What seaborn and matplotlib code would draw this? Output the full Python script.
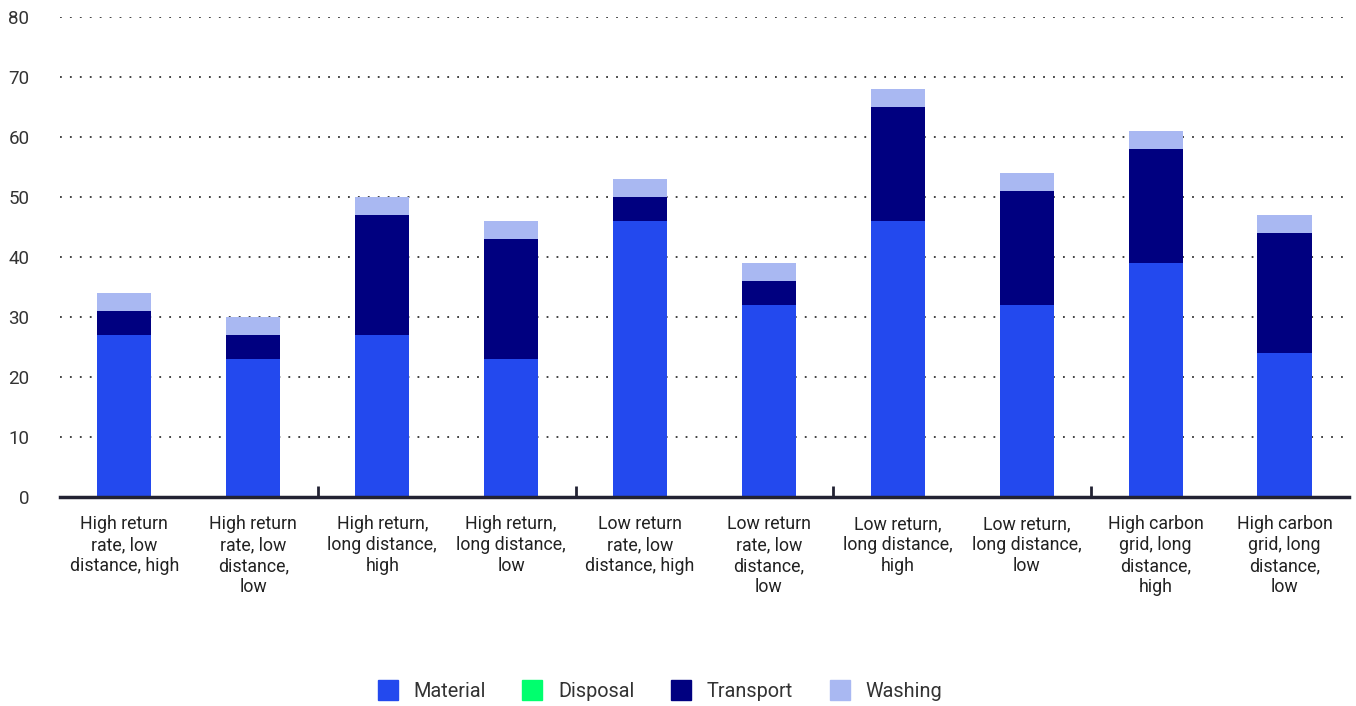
import matplotlib
matplotlib.use("Agg")
import matplotlib.pyplot as plt
from matplotlib.lines import Line2D
import seaborn as sns
import pandas as pd
import numpy as np

categories = [
    "High return\nrate, low\ndistance, high",
    "High return\nrate, low\ndistance,\nlow",
    "High return,\nlong distance,\nhigh",
    "High return,\nlong distance,\nlow",
    "Low return\nrate, low\ndistance, high",
    "Low return\nrate, low\ndistance,\nlow",
    "Low return,\nlong distance,\nhigh",
    "Low return,\nlong distance,\nlow",
    "High carbon\ngrid, long\ndistance,\nhigh",
    "High carbon\ngrid, long\ndistance,\nlow",
]
material = [27, 23, 27, 23, 46, 32, 46, 32, 39, 24]
disposal = [0, 0, 0, 0, 0, 0, 0, 0, 0, 0]
transport = [4, 4, 20, 20, 4, 4, 19, 19, 19, 20]
washing = [3, 3, 3, 3, 3, 3, 3, 3, 3, 3]

series_names = ["Material", "Disposal", "Transport", "Washing"]
colors = {"Material": "#2349EE", "Disposal": "#00FF6E",
          "Transport": "#000080", "Washing": "#A9B8F2"}

sns.set_theme(style="white")
plt.rcParams['font.family'] = ['Roboto', 'DejaVu Sans']

df = pd.DataFrame({"cat": categories, "Material": material, "Disposal": disposal,
                   "Transport": transport, "Washing": washing})
cum = df[series_names].cumsum(axis=1)

fig = plt.figure(figsize=(13.56, 7.06), dpi=100)
ax = fig.add_axes([0.0442, 0.296, 0.9506, 0.680])

for name in reversed(series_names):
    sns.barplot(x=df["cat"], y=cum[name], color=colors[name], width=0.42,
                ax=ax, saturation=1, order=categories, linewidth=0, edgecolor="none")

ax.set_ylim(0, 80)
ax.set_xlim(-0.5, len(categories) - 0.5)
ax.set_yticks(range(0, 81, 10))
ax.set_xlabel("")
ax.set_ylabel("")
for y in range(10, 81, 10):
    ax.axhline(y, color="#333333", linestyle=(0, (1, 4.5)), linewidth=1.3, zorder=0)
ax.set_axisbelow(True)

for s in ["top", "right", "left"]:
    ax.spines[s].set_visible(False)
ax.spines["bottom"].set_color("#222233")
ax.spines["bottom"].set_linewidth(2.5)

ax.tick_params(axis="y", length=0, labelsize=13.5, labelcolor="#333333", pad=22)
ax.set_xticks(range(len(categories)))
ax.set_xticklabels(categories, fontsize=12.8, color="#222222", linespacing=1.22)
ax.tick_params(axis="x", which="major", bottom=True, length=0, pad=13)
# ticks between pairs
ax.set_xticks([1.5, 3.5, 5.5, 7.5], minor=True)
ax.tick_params(axis="x", which="minor", bottom=True, direction="in", length=8,
               width=2, color="#222233")

handles = [Line2D([0], [0], marker="s", linestyle="", markersize=15,
                  markerfacecolor=colors[n], markeredgecolor=colors[n]) for n in series_names]
fig.legend(handles, series_names, loc="center", bbox_to_anchor=(0.486, 0.02),
           ncol=4, frameon=False, fontsize=14.3, handletextpad=0.7, columnspacing=1.75,
           labelcolor="#333333", handlelength=1.2)

fig.savefig("out.png", dpi=100)
